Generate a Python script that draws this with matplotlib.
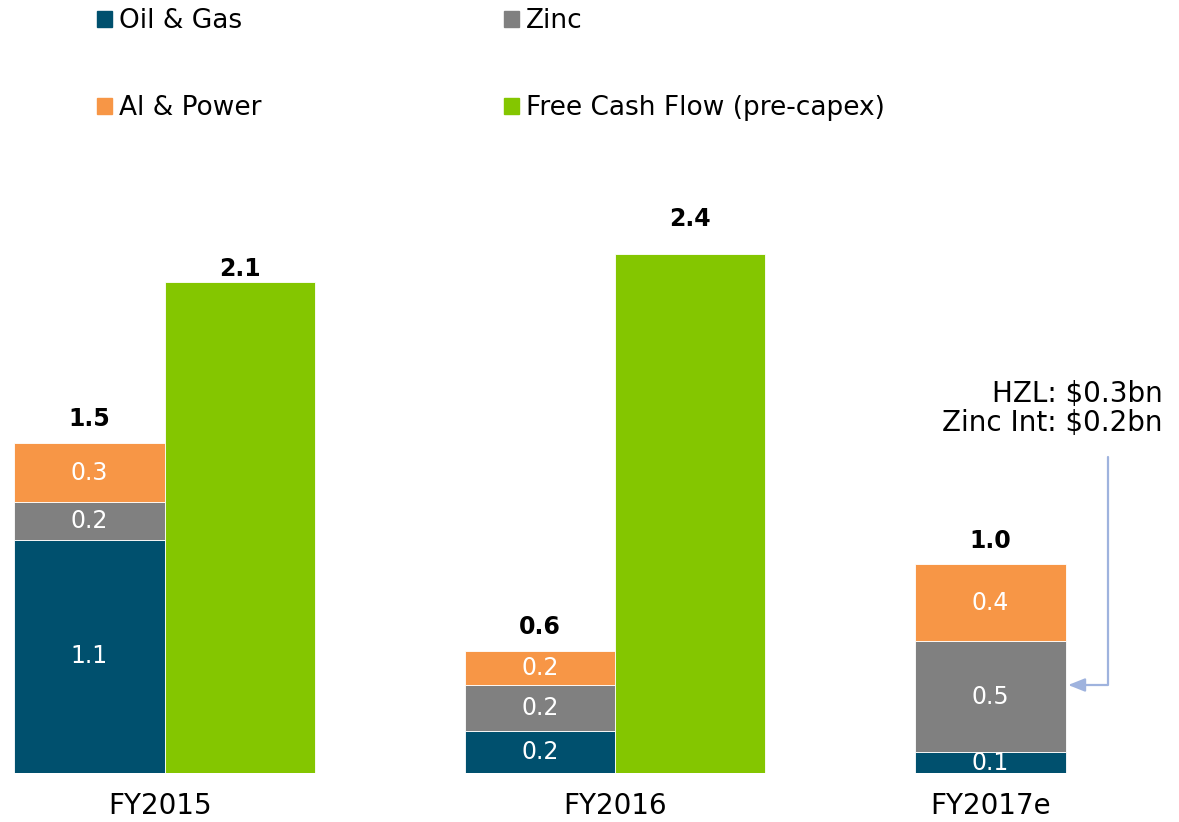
import matplotlib
matplotlib.use("Agg")
import matplotlib.pyplot as plt
from matplotlib.patches import Patch
import numpy as np

plt.rcParams["font.family"] = ["DejaVu Sans"]

# ─────────────────────────────────────────────
# Dados (US$ bn)
# ─────────────────────────────────────────────
anos = ["FY2015", "FY2016", "FY2017e"]

oil_gas  = [1.06, 0.19, 0.095]
zinc     = [0.17, 0.21, 0.505]
al_power = [0.27, 0.155, 0.348]
fcf      = [2.23, 2.36]          # só FY2015 e FY2016

rot_oil   = ["1.1", "0.2", "0.1"]
rot_zinc  = ["0.2", "0.2", "0.5"]
rot_al    = ["0.3", "0.2", "0.4"]
rot_total = ["1.5", "0.6", "1.0"]
rot_fcf   = ["2.1", "2.4"]

nota = "HZL: $0.3bn\nZinc Int: $0.2bn"

# cores
C_OIL  = "#00506e"
C_ZINC = "#808080"
C_AL   = "#f79646"
C_FCF  = "#84c600"
C_SETA = "#9fb3de"

# ─────────────────────────────────────────────
# Gráfico
# ─────────────────────────────────────────────
fig = plt.figure(figsize=(11.79, 8.22), dpi=100)
ax = fig.add_axes([0, 49 / 822, 1, 773 / 822])

largura = 1 / 3
x = np.arange(len(anos))
x_pilha = x - largura / 2
x_fcf = x[:len(fcf)] + largura / 2

oil_gas  = np.array(oil_gas)
zinc     = np.array(zinc)
al_power = np.array(al_power)

kw = dict(width=largura, edgecolor="white", linewidth=0.6)
b_oil  = ax.bar(x_pilha, oil_gas, color=C_OIL, **kw)
b_zinc = ax.bar(x_pilha, zinc, bottom=oil_gas, color=C_ZINC, **kw)
b_al   = ax.bar(x_pilha, al_power, bottom=oil_gas + zinc, color=C_AL, **kw)
b_fcf  = ax.bar(x_fcf, fcf, color=C_FCF, **kw)

# rótulos dentro das barras
for barras, rotulos in [(b_oil, rot_oil), (b_zinc, rot_zinc), (b_al, rot_al)]:
    ax.bar_label(barras, labels=rotulos, label_type="center",
                 color="white", fontsize=17)

# totais em negrito
topo = oil_gas + zinc + al_power
for xi, yi, r in zip(x_pilha, topo, rot_total):
    ax.annotate(r, (xi, yi), xytext=(0, 17), textcoords="offset points",
                ha="center", va="center", fontsize=17, fontweight="bold")

desloc_fcf = [10, 25]
for xi, yi, r, d in zip(x_fcf, fcf, rot_fcf, desloc_fcf):
    ax.annotate(r, (xi, yi), xytext=(0, d), textcoords="offset points",
                ha="center", va="center", fontsize=17, fontweight="bold")

# nota com seta
ax.text(2.216, 1.655, nota, ha="right", va="center", fontsize=20,
        linespacing=1.05)
ax.annotate("", xy=(2.006, 0.40), xytext=(2.094, 1.436),
            arrowprops=dict(arrowstyle="-|>,head_length=1.0,head_width=0.4",
                            connectionstyle="angle,angleA=90,angleB=0,rad=0",
                            color=C_SETA, linewidth=1.6,
                            shrinkA=0, shrinkB=0))

# eixos
ax.set_xlim(-164.5 / 450.5, (1179 - 164.5) / 450.5)
ax.set_ylim(0, 773 / 220)
ticks = [x[0] - 0.01, x[1], x_pilha[2]]
ax.set_xticks(ticks)
ax.set_xticklabels(anos, fontsize=20)
ax.tick_params(axis="x", length=0, pad=14)
ax.set_yticks([])
for s in ax.spines.values():
    s.set_visible(False)

# legenda
handles = [Patch(color=C_OIL, label="Oil & Gas"),
           Patch(color=C_AL, label="Al & Power"),
           Patch(color=C_ZINC, label="Zinc"),
           Patch(color=C_FCF, label="Free Cash Flow (pre-capex)")]
fig.legend(handles=handles, ncol=2, loc="upper left",
           bbox_to_anchor=(97 / 1179, 1 - 8 / 822),
           frameon=False, fontsize=19, borderpad=0, borderaxespad=0,
           handlelength=0.57, handleheight=0.57, handletextpad=0.25,
           columnspacing=9.2, labelspacing=2.32)

plt.savefig("out.png", dpi=100)
